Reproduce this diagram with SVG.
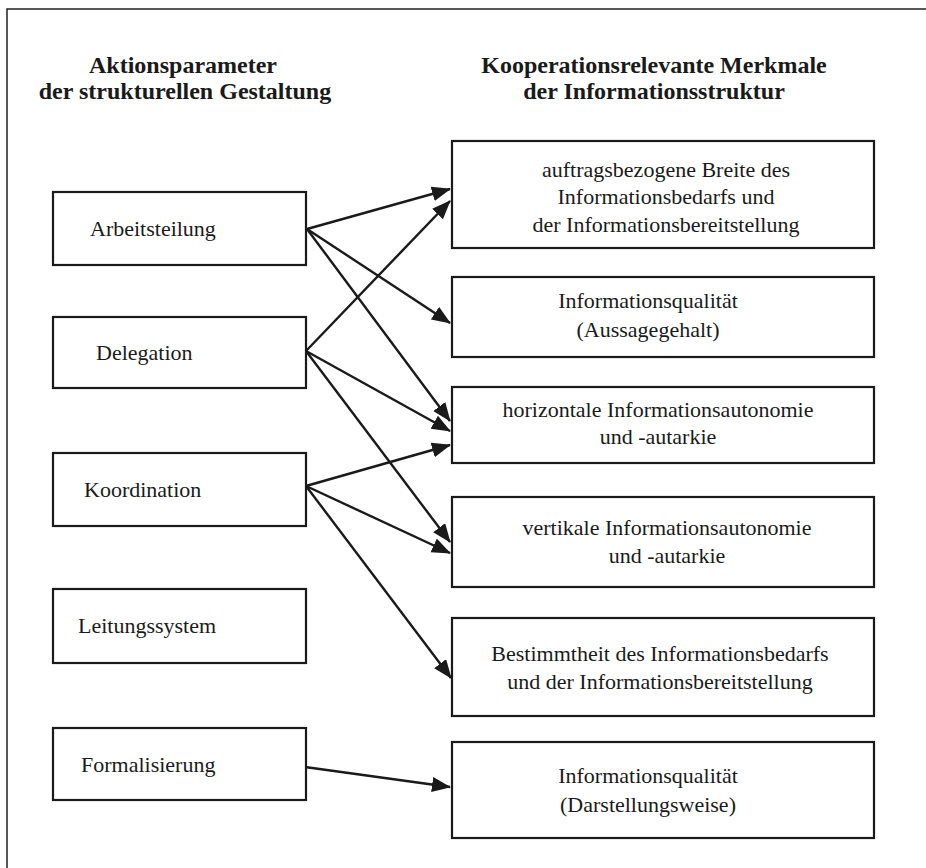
<svg xmlns="http://www.w3.org/2000/svg" width="926" height="868" viewBox="0 0 926 868">
<style>
  .bg { fill: #ffffff; }
  .frame { fill: none; stroke: #222; stroke-width: 1.5; }
  .box { fill: #ffffff; stroke: #1a1a1a; stroke-width: 2.2; }
  .hdr { font-family: "Liberation Serif", "Times New Roman", serif; font-weight: bold; font-size: 24px; fill: #1a1a1a; text-anchor: middle; }
  .lbl { font-family: "Liberation Serif", "Times New Roman", serif; font-size: 22px; fill: #1a1a1a; }
  .ctr { text-anchor: middle; }
  .conn { stroke: #1a1a1a; stroke-width: 2.4; fill: none; marker-end: url(#arrow); }
</style>
<defs>
  <marker id="arrow" markerUnits="userSpaceOnUse" markerWidth="22" markerHeight="16" refX="18" refY="7.5" orient="auto">
    <path d="M0,0 L19,7.5 L0,15 z" fill="#1a1a1a"/>
  </marker>
</defs>
<rect class="bg" x="0" y="0" width="926" height="868"/>
<path class="frame" d="M7,870 V9 H928"/>

<g id="headers">
  <text class="hdr" x="183" y="73">Aktionsparameter</text>
  <text class="hdr" x="185" y="99">der strukturellen Gestaltung</text>
  <text class="hdr" x="654" y="73">Kooperationsrelevante Merkmale</text>
  <text class="hdr" x="654" y="99">der Informationsstruktur</text>
</g>

<g id="connectors">
  <line class="conn" x1="307" y1="229" x2="450" y2="189"/>
  <line class="conn" x1="307" y1="229" x2="450" y2="323"/>
  <line class="conn" x1="307" y1="229" x2="450" y2="421"/>
  <line class="conn" x1="306" y1="351" x2="450" y2="201"/>
  <line class="conn" x1="306" y1="351" x2="450" y2="431"/>
  <line class="conn" x1="306" y1="351" x2="450" y2="542"/>
  <line class="conn" x1="306" y1="486" x2="450" y2="445"/>
  <line class="conn" x1="306" y1="486" x2="450" y2="553"/>
  <line class="conn" x1="306" y1="486" x2="451" y2="678"/>
  <line class="conn" x1="305" y1="767" x2="450" y2="787"/>
</g>

<g id="arbeitsteilung">
  <rect class="box" x="53" y="192" width="253" height="73"/>
  <text class="lbl" x="90" y="236">Arbeitsteilung</text>
</g>
<g id="delegation">
  <rect class="box" x="53" y="317" width="253" height="71"/>
  <text class="lbl" x="96" y="360">Delegation</text>
</g>
<g id="koordination">
  <rect class="box" x="53" y="453" width="253" height="73"/>
  <text class="lbl" x="84" y="497">Koordination</text>
</g>
<g id="leitungssystem">
  <rect class="box" x="53" y="589" width="253" height="74"/>
  <text class="lbl" x="78" y="633">Leitungssystem</text>
</g>
<g id="formalisierung">
  <rect class="box" x="53" y="728" width="253" height="72"/>
  <text class="lbl" x="81" y="772">Formalisierung</text>
</g>

<g id="breite">
  <rect class="box" x="452" y="141" width="422" height="107"/>
  <text class="lbl ctr" x="666" y="177">auftragsbezogene Breite des</text>
  <text class="lbl ctr" x="666" y="204">Informationsbedarfs und</text>
  <text class="lbl ctr" x="666" y="232">der Informationsbereitstellung</text>
</g>
<g id="qualitaet-aussage">
  <rect class="box" x="452" y="277" width="422" height="80"/>
  <text class="lbl ctr" x="648" y="308">Informationsqualität</text>
  <text class="lbl ctr" x="648" y="337">(Aussagegehalt)</text>
</g>
<g id="horizontal">
  <rect class="box" x="452" y="387" width="422" height="76"/>
  <text class="lbl ctr" x="658" y="417">horizontale Informationsautonomie</text>
  <text class="lbl ctr" x="658" y="444">und -autarkie</text>
</g>
<g id="vertikal">
  <rect class="box" x="452" y="497" width="422" height="90"/>
  <text class="lbl ctr" x="667" y="535">vertikale Informationsautonomie</text>
  <text class="lbl ctr" x="667" y="563">und -autarkie</text>
</g>
<g id="bestimmtheit">
  <rect class="box" x="452" y="618" width="422" height="98"/>
  <text class="lbl ctr" x="660" y="661">Bestimmtheit des Informationsbedarfs</text>
  <text class="lbl ctr" x="660" y="689">und der Informationsbereitstellung</text>
</g>
<g id="qualitaet-darstellung">
  <rect class="box" x="452" y="742" width="422" height="96"/>
  <text class="lbl ctr" x="648" y="783">Informationsqualität</text>
  <text class="lbl ctr" x="648" y="812">(Darstellungsweise)</text>
</g>
</svg>
